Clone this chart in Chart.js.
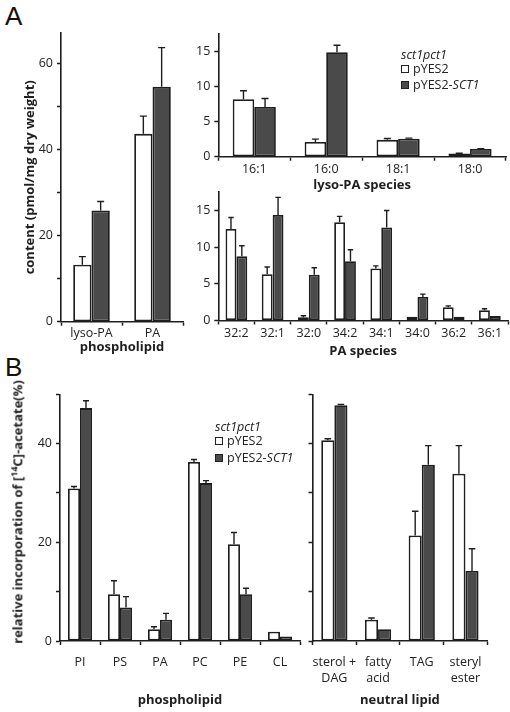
<!DOCTYPE html>
<html>
<head>
<meta charset="utf-8">
<script src="https://cdn.jsdelivr.net/npm/chart.js@4.4.1/dist/chart.umd.min.js"></script>
<style>
body{margin:0;background:#fff;}
#wrap{position:relative;width:510px;height:712px;font-family:'Open Sans',sans-serif;color:#222;overflow:hidden;}
canvas{position:absolute;}
.panel{position:absolute;font-family:'Liberation Sans',Arial,sans-serif;font-size:26px;line-height:1;color:#111;}
.leg{position:absolute;font-size:12.5px;line-height:16px;white-space:nowrap;color:#222;}
.sw{display:inline-block;width:6px;height:6px;border:1.5px solid #222;margin-right:4px;vertical-align:0;}
.ytitle{position:absolute;font-weight:bold;font-size:13px;white-space:nowrap;transform:translate(-50%,-50%) rotate(-90deg);color:#222;}
</style>
</head>
<body>
<div id="wrap">
<div class="panel" style="left:5px;top:3px;">A</div>
<div class="panel" style="left:5px;top:354px;">B</div>

<canvas id="aTotal" width="195" height="360" style="left:0;top:0;"></canvas>
<canvas id="aLyso" width="330" height="195" style="left:180px;top:0;"></canvas>
<canvas id="aPA" width="330" height="180" style="left:180px;top:180px;"></canvas>
<canvas id="bPhos" width="305" height="342" style="left:0;top:370px;"></canvas>
<canvas id="bNeut" width="220" height="342" style="left:290px;top:370px;"></canvas>

<div class="leg" style="left:401px;top:47px;"><i>sct1pct1</i></div>
<div class="leg" style="left:401px;top:61px;"><span class="sw" style="background:#fff"></span>pYES2</div>
<div class="leg" style="left:401px;top:77px;"><span class="sw" style="background:#4a4a4a"></span>pYES2-<i>SCT1</i></div>

<div class="leg" style="left:215px;top:419px;"><i>sct1pct1</i></div>
<div class="leg" style="left:215px;top:433px;"><span class="sw" style="background:#fff"></span>pYES2</div>
<div class="leg" style="left:215px;top:450px;"><span class="sw" style="background:#4a4a4a"></span>pYES2-<i>SCT1</i></div>

<div class="ytitle" style="left:17px;top:512px;">relative incorporation of [<sup style="font-size:9px">14</sup>C]-acetate(%)</div>
</div>

<script>
// panel A, total lipids
const totalCats = ['lyso-PA', 'PA'];
const totalYes2 = [13.2, 43.6];
const totalYes2Err = [1.9, 4.1];
const totalSct1 = [25.8, 54.5];
const totalSct1Err = [2.1, 9.1];

// panel A, lyso-PA species
const lysoCats = ['16:1', '16:0', '18:1', '18:0'];
const lysoYes2 = [8.2, 2.1, 2.4, 0.45];
const lysoYes2Err = [1.2, 0.4, 0.2, 0.05];
const lysoSct1 = [7.1, 14.9, 2.55, 1.1];
const lysoSct1Err = [1.2, 1.0, 0.1, 0.05];

// panel A, PA species
const paCats = ['32:2', '32:1', '32:0', '34:2', '34:1', '34:0', '36:2', '36:1'];
const paYes2 = [12.5, 6.3, 0.45, 13.4, 7.1, 0.5, 1.8, 1.4];
const paYes2Err = [1.55, 1.0, 0.2, 0.8, 0.35, 0, 0.2, 0.2];
const paSct1 = [8.75, 14.4, 6.25, 8.1, 12.7, 3.2, 0.5, 0.6];
const paSct1Err = [1.45, 2.4, 0.95, 1.55, 2.3, 0.4, 0, 0];

// panel B, phospholipids
const phosCats = ['PI', 'PS', 'PA', 'PC', 'PE', 'CL'];
const phosYes2 = [30.9, 9.5, 2.4, 36.3, 19.6, 1.9];
const phosYes2Err = [0.4, 2.7, 0.5, 0.5, 2.4, 0];
const phosSct1 = [47.2, 6.8, 4.3, 32.0, 9.5, 0.9];
const phosSct1Err = [1.5, 2.2, 1.3, 0.5, 1.2, 0];

// panel B, neutral lipids
const neutCats = [['sterol +', 'DAG'], ['fatty', 'acid'], 'TAG', ['steryl', 'ester']];
const neutYes2 = [40.7, 4.3, 21.4, 33.9];
const neutYes2Err = [0.3, 0.35, 4.9, 5.7];
const neutSct1 = [47.8, 2.4, 35.7, 14.2];
const neutSct1Err = [0.15, 0, 3.9, 4.5];

Chart.defaults.font.family = "'Open Sans', sans-serif";
Chart.defaults.font.size = 12.5;
Chart.defaults.color = '#222';

const ink = '#1e1e1e';

// error bars, only the upper half, like in the figure
const errBars = {
    id: 'errBars',
    afterDatasetsDraw(chart) {
        const ctx = chart.ctx;
        const ys = chart.scales.y;
        chart.data.datasets.forEach((ds, i) => {
            chart.getDatasetMeta(i).data.forEach((bar, j) => {
                const e = ds.errors[j];
                if (!e) return;
                const top = ys.getPixelForValue(ds.data[j] + e);
                const half = Math.min(3.5, bar.width * 0.25);
                ctx.save();
                ctx.strokeStyle = ink;
                ctx.lineWidth = 1.4;
                ctx.beginPath();
                ctx.moveTo(bar.x, bar.y);
                ctx.lineTo(bar.x, top);
                ctx.moveTo(bar.x - half, top);
                ctx.lineTo(bar.x + half, top);
                ctx.stroke();
                ctx.restore();
            });
        });
    }
};

function makeChart(id, c) {
    return new Chart(document.getElementById(id), {
        type: 'bar',
        data: {
            labels: c.cats,
            datasets: [
                {label: 'pYES2', data: c.yes2, errors: c.yes2Err, backgroundColor: '#fff',
                    borderColor: ink, borderWidth: 1.8, borderSkipped: false},
                {label: 'pYES2-SCT1', data: c.sct1, errors: c.sct1Err, backgroundColor: '#4a4a4a',
                    borderColor: ink, borderWidth: 1.8, borderSkipped: false}
            ]
        },
        options: {
            responsive: false,
            animation: false,
            layout: {padding: c.pad},
            datasets: {bar: {categoryPercentage: 0.6, barPercentage: 1.0}},
            plugins: {legend: {display: false}, tooltip: {enabled: false}},
            scales: {
                x: {
                    offset: true,
                    grid: {offset: true, drawOnChartArea: false, drawTicks: true, tickLength: 4,
                        tickWidth: 1.5, tickColor: ink},
                    border: {color: ink, width: 1.6},
                    ticks: {padding: c.tickPad, maxRotation: 0, autoSkip: false,
                        font: {size: 12.5, lineHeight: 1.3}},
                    title: {display: true, text: c.xTitle, color: ink,
                        font: {weight: 'bold', size: 13}, padding: {top: 0, bottom: c.xTitlePad}},
                    afterFit: s => { s.height = c.xHeight; }
                },
                y: {
                    min: 0,
                    max: c.yMax,
                    grid: {drawOnChartArea: false, drawTicks: true, tickLength: 4,
                        tickWidth: 1.5, tickColor: ink},
                    border: {color: ink, width: 1.6},
                    ticks: {stepSize: c.yStep, includeBounds: false, padding: 4,
                        callback: c.yLabel},
                    title: {display: !!c.yTitle, text: c.yTitle, color: ink,
                        font: {weight: 'bold', size: 13}, padding: {top: 0, bottom: 0}},
                    afterFit: s => { s.width = c.yWidth; }
                }
            }
        },
        plugins: [errBars]
    });
}

const every20 = v => (v % 20 === 0 ? v : '');

makeChart('aTotal', {
    cats: totalCats, yes2: totalYes2, yes2Err: totalYes2Err, sct1: totalSct1, sct1Err: totalSct1Err,
    yMax: 67, yStep: 10, yLabel: every20, yWidth: 39, xHeight: 38.3,
    pad: {left: 22, top: 33, right: 12, bottom: 0}, tickPad: 0,
    xTitle: 'phospholipid', xTitlePad: 5, yTitle: 'content (pmol/mg dry weight)'
});

makeChart('aLyso', {
    cats: lysoCats, yes2: lysoYes2, yes2Err: lysoYes2Err, sct1: lysoSct1, sct1Err: lysoSct1Err,
    yMax: 17.6, yStep: 5, yLabel: v => v, yWidth: 38.3, xHeight: 38.3,
    pad: {left: 0, top: 33.3, right: 4, bottom: 0}, tickPad: 1,
    xTitle: 'lyso-PA species', xTitlePad: 2
});

makeChart('aPA', {
    cats: paCats, yes2: paYes2, yes2Err: paYes2Err, sct1: paSct1, sct1Err: paSct1Err,
    yMax: 17.6, yStep: 5, yLabel: v => v, yWidth: 38.3, xHeight: 39.5,
    pad: {left: 0, top: 10, right: 2, bottom: 0}, tickPad: 1,
    xTitle: 'PA species', xTitlePad: 1
});

makeChart('bPhos', {
    cats: phosCats, yes2: phosYes2, yes2Err: phosYes2Err, sct1: phosSct1, sct1Err: phosSct1Err,
    yMax: 50, yStep: 10, yLabel: every20, yWidth: 60, xHeight: 71,
    pad: {left: 0, top: 24.3, right: 5, bottom: 0}, tickPad: 9,
    xTitle: 'phospholipid', xTitlePad: 4
});

makeChart('bNeut', {
    cats: neutCats, yes2: neutYes2, yes2Err: neutYes2Err, sct1: neutSct1, sct1Err: neutSct1Err,
    yMax: 50, yStep: 10, yLabel: () => '', yWidth: 22.5, xHeight: 71,
    pad: {left: 0, top: 24.3, right: 22.7, bottom: 0}, tickPad: 9,
    xTitle: 'neutral lipid', xTitlePad: 4
});
</script>
</body>
</html>
